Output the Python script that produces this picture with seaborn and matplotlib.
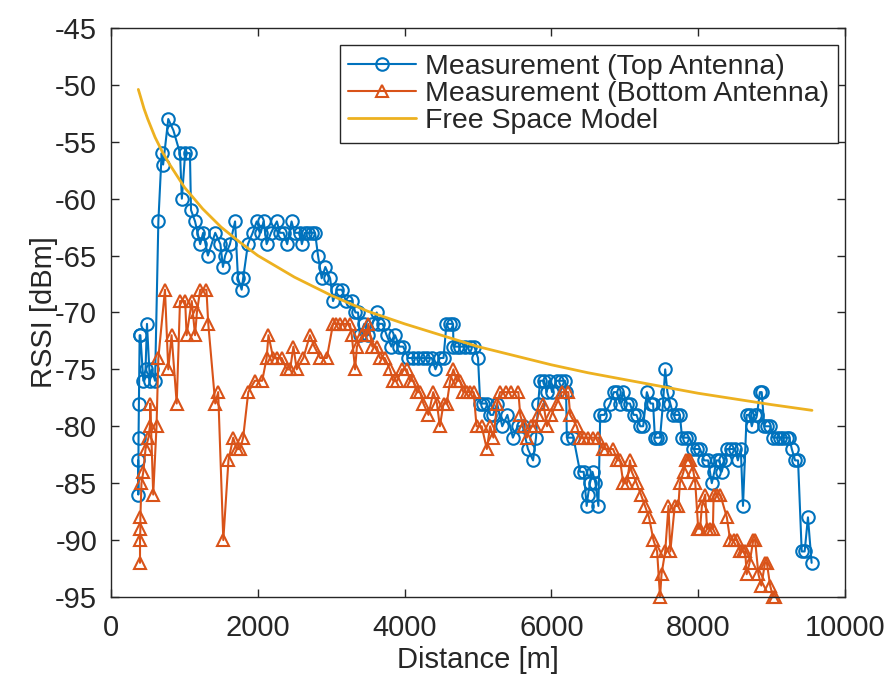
import numpy as np
import pandas as pd
import matplotlib
matplotlib.use("Agg")
import matplotlib.pyplot as plt
import seaborn as sns

# measured RSSI, top antenna (distance in m, RSSI in dBm)
top_dist = [370, 372, 375, 380, 390, 400, 440, 470, 490, 530, 555, 600, 645, 690, 710, 780, 850, 940,
            965, 1010, 1075, 1090, 1145, 1180, 1215, 1255, 1320, 1420, 1490, 1525, 1555, 1620, 1690, 1730,
            1780, 1800, 1865, 1930, 1985, 2040, 2080, 2120, 2180, 2260, 2300, 2350, 2400, 2460, 2500, 2575,
            2600, 2640, 2690, 2740, 2780, 2820, 2870, 2920, 2985, 3025, 3080, 3145, 3200, 3280, 3330, 3365,
            3390, 3450, 3500, 3560, 3620, 3640, 3700, 3755, 3820, 3870, 3930, 3980, 4050, 4115, 4180, 4250,
            4310, 4370, 4420, 4480, 4530, 4570, 4620, 4660, 4665, 4710, 4755, 4820, 4890, 4950, 5000, 5030,
            5070, 5120, 5170, 5205, 5260, 5330, 5400, 5475, 5540, 5610, 5680, 5750, 5790, 5820, 5845, 5900,
            5935, 5970, 6010, 6070, 6130, 6185, 6200, 6210, 6300, 6390, 6440, 6480, 6500, 6525, 6560, 6600,
            6640, 6665, 6720, 6800, 6850, 6890, 6930, 6975, 7030, 7070, 7120, 7160, 7210, 7250, 7300, 7350,
            7385, 7410, 7445, 7480, 7520, 7550, 7580, 7620, 7660, 7710, 7750, 7780, 7830, 7880, 7930, 7980,
            8025, 8080, 8135, 8185, 8220, 8250, 8290, 8320, 8360, 8390, 8440, 8500, 8540, 8580, 8610, 8660,
            8700, 8730, 8770, 8800, 8840, 8865, 8900, 8935, 8980, 9020, 9070, 9115, 9160, 9205, 9240, 9275,
            9320, 9360, 9410, 9450, 9495, 9545]
top_rssi = [-83, -86, -81, -78, -72, -72, -76, -75, -71, -76, -75, -76, -62, -56, -57, -53, -54, -56,
            -60, -56, -56, -61, -62, -63, -64, -63, -65, -63, -64, -66, -65, -64, -62, -67,
            -68, -67, -64, -63, -62, -63, -62, -64, -63, -62, -63, -63, -64, -62, -63, -63,
            -64, -63, -63, -63, -63, -65, -67, -66, -67, -69, -68, -68, -69, -69, -70, -70,
            -72, -71, -72, -71, -70, -71, -71, -72, -73, -72, -73, -73, -74, -74, -74, -74,
            -74, -74, -75, -74, -74, -71, -71, -71, -73, -73, -73, -73, -73, -73, -74, -78,
            -78, -78, -79, -79, -78, -80, -79, -81, -80, -80, -82, -83, -81, -78, -76, -76,
            -77, -76, -77, -76, -76, -76, -77, -81, -81, -84, -84, -87, -86, -85, -84, -85,
            -87, -79, -79, -78, -77, -77, -78, -77, -78, -78, -79, -79, -80, -80, -77, -78,
            -78, -81, -81, -81, -78, -75, -77, -78, -79, -79, -79, -81, -81, -81, -82, -82,
            -82, -83, -83, -85, -84, -83, -83, -84, -83, -82, -82, -82, -83, -82, -87, -79,
            -79, -80, -79, -79, -77, -77, -80, -80, -80, -81, -81, -81, -81, -81, -81, -82,
            -83, -83, -91, -91, -88, -92]

# measured RSSI, bottom antenna
bottom_dist = [395, 395, 400, 400, 415, 440, 470, 510, 530, 535, 575, 620, 645, 735, 780, 825, 895, 940,
               1010, 1030, 1100, 1145, 1170, 1215, 1300, 1325, 1420, 1460, 1530, 1600, 1665, 1710, 1760,
               1800, 1870, 1960, 2060, 2120, 2145, 2210, 2260, 2325, 2395, 2440, 2485, 2530, 2620, 2710,
               2770, 2850, 2940, 3025, 3070, 3120, 3190, 3255, 3280, 3325, 3350, 3420, 3485, 3505, 3560,
               3620, 3665, 3730, 3800, 3845, 3900, 3960, 4030, 4075, 4120, 4165, 4210, 4255, 4325, 4390,
               4440, 4480, 4530, 4575, 4620, 4665, 4710, 4755, 4800, 4845, 4890, 4940, 4980, 5050, 5120,
               5165, 5210, 5260, 5300, 5380, 5450, 5550, 5575, 5620, 5665, 5720, 5780, 5820, 5890, 5940,
               6000, 6070, 6140, 6230, 6255, 6345, 6390, 6450, 6500, 6570, 6640, 6700, 6750, 6840, 6900,
               6935, 6980, 7030, 7070, 7095, 7160, 7220, 7275, 7330, 7390, 7440, 7480, 7500, 7550, 7595,
               7620, 7680, 7730, 7750, 7800, 7830, 7865, 7890, 7935, 7960, 8000, 8025, 8050, 8095, 8120,
               8160, 8200, 8210, 8250, 8300, 8390, 8435, 8490, 8525, 8570, 8615, 8640, 8660, 8700, 8750,
               8775, 8820, 8860, 8910, 8935, 8980, 9020, 9045]
bottom_rssi = [-92, -90, -89, -88, -85, -84, -82, -81, -80, -78, -86, -80, -74, -68, -75, -72, -78, -69,
               -69, -72, -69, -72, -70, -68, -68, -71, -78, -77, -90, -83, -81, -82, -82,
               -81, -77, -76, -76, -74, -72, -74, -74, -74, -75, -75, -73, -75, -74, -72,
               -73, -74, -74, -71, -71, -71, -71, -71, -72, -75, -73, -72, -72, -71, -73,
               -73, -74, -74, -75, -76, -76, -75, -75, -76, -76, -77, -77, -78, -79, -77,
               -78, -80, -78, -78, -76, -75, -76, -76, -77, -77, -77, -77, -80, -80, -82,
               -80, -81, -78, -77, -77, -77, -77, -79, -80, -81, -80, -80, -79, -78, -80,
               -79, -78, -77, -77, -79, -80, -81, -81, -81, -81, -81, -82, -82, -82, -83,
               -83, -85, -85, -83, -84, -85, -86, -87, -88, -90, -91, -95, -93, -91, -87,
               -91, -87, -87, -85, -84, -83, -83, -83, -84, -85, -89, -89, -87, -86, -89,
               -89, -89, -86, -86, -86, -88, -90, -90, -90, -91, -91, -91, -93, -92, -90,
               -90, -93, -94, -92, -92, -94, -95, -95]

# free space model
model_dist = [372, 400, 450, 500, 600, 700, 800, 1000, 1250, 1500, 1750, 2000, 2500, 3000, 3500,
              4000, 4500, 5000, 5500, 6000, 6500, 7000, 7500, 8000, 8500, 9000, 9550]
model_rssi = [-50.4, -51.0, -52.1, -53.0, -54.6, -55.9, -57.0, -59.0, -60.9, -62.5, -63.8, -65.0, -66.9,
              -68.5, -69.9, -71.0, -72.0, -73.0, -73.8, -74.6, -75.3, -75.9, -76.5, -77.1, -77.6, -78.1,
              -78.6]

BLUE = "#0072BD"
ORANGE = "#D95319"
YELLOW = "#EDB120"
GREY = "#262626"

sns.set_theme(style="ticks")
plt.rcParams['font.family'] = ['Liberation Sans', 'DejaVu Sans']
plt.rcParams['axes.unicode_minus'] = False

df_top = pd.DataFrame({"Distance": top_dist, "RSSI": top_rssi})
df_bot = pd.DataFrame({"Distance": bottom_dist, "RSSI": bottom_rssi})
df_mod = pd.DataFrame({"Distance": model_dist, "RSSI": model_rssi})

fig = plt.figure(figsize=(8.96, 6.77), dpi=100)
ax = fig.add_axes([0.1239, 0.1182, 0.8192, 0.8405])

sns.lineplot(data=df_top, x="Distance", y="RSSI", ax=ax, estimator=None, sort=False,
             color=BLUE, lw=1.5, marker="o", ms=9, mfc="none", mec=BLUE, mew=1.5,
             label="Measurement (Top Antenna)", clip_on=False)
sns.lineplot(data=df_bot, x="Distance", y="RSSI", ax=ax, estimator=None, sort=False,
             color=ORANGE, lw=1.5, marker="^", ms=9, mfc="none", mec=ORANGE, mew=1.5,
             label="Measurement (Bottom Antenna)", clip_on=False)
sns.lineplot(data=df_mod, x="Distance", y="RSSI", ax=ax, estimator=None, sort=False,
             color=YELLOW, lw=2, label="Free Space Model")

ax.set_xlim(0, 10000)
ax.set_ylim(-95, -45)
ax.set_xticks(np.arange(0, 10001, 2000))
ax.set_yticks(np.arange(-95, -44, 5))
# the reference crops this label at the bottom edge; keep it just inside the canvas
ax.set_xlabel("Distance [m]", fontsize=21, color=GREY, labelpad=3)
ax.set_ylabel("RSSI [dBm]", fontsize=21, color=GREY, labelpad=-2)
ax.tick_params(direction="in", top=True, right=True, length=6, width=1,
               labelsize=21, colors=GREY)
ax.tick_params(axis="x", pad=12)
ax.tick_params(axis="y", pad=10)
for sp in ax.spines.values():
    sp.set_visible(True)
    sp.set_color(GREY)
    sp.set_linewidth(1)

leg = ax.legend(loc="upper right", bbox_to_anchor=(0.990, 0.970), borderaxespad=0,
                fontsize=20.5, frameon=True, fancybox=False, framealpha=1,
                edgecolor=GREY, handlelength=2.4, labelspacing=0.05, borderpad=0.3,
                handletextpad=0.3)
leg.get_frame().set_linewidth(1)

fig.savefig("out.png", dpi=100)
